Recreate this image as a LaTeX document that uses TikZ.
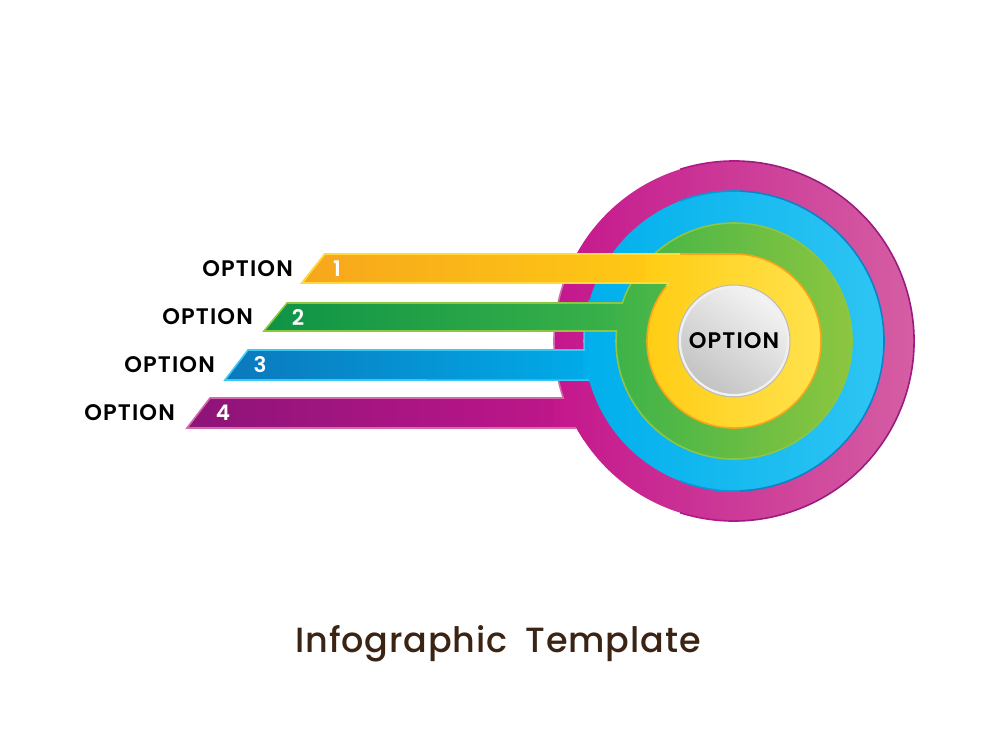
\documentclass[tikz,border=0pt]{standalone}
\usepackage{fontspec}
\setmainfont{Poppins}
\newfontfamily\titlefont{Poppins Medium}[LetterSpace=2.5]
\newfontfamily\labelfont{Poppins SemiBold}[LetterSpace=5]
\definecolor{magL}{HTML}{8C1478}
\definecolor{magM}{HTML}{C4168C}
\definecolor{magR}{HTML}{D55EA3}
\definecolor{magBar}{HTML}{D46AAE}
\definecolor{magRing}{HTML}{9B1C80}
\definecolor{bluL}{HTML}{0B78BC}
\definecolor{bluM}{HTML}{00AFEC}
\definecolor{bluR}{HTML}{2EC5F3}
\definecolor{bluBar}{HTML}{3AC8F5}
\definecolor{bluRing}{HTML}{0C83C6}
\definecolor{grnL}{HTML}{0E9346}
\definecolor{grnM}{HTML}{3DB349}
\definecolor{grnR}{HTML}{8DC63F}
\definecolor{grnO}{HTML}{8DC63F}
\definecolor{ylwL}{HTML}{F7A61C}
\definecolor{ylwM}{HTML}{FFCD14}
\definecolor{ylwR}{HTML}{FFE24D}
\definecolor{ylwBar}{HTML}{FFDA3A}
\definecolor{ylwRing}{HTML}{F9A51A}
\definecolor{titlebrown}{HTML}{3C2415}
\tikzset{
  lbl/.style={anchor=east,inner sep=0pt,font=\labelfont\fontsize{22.5}{22.5}\selectfont,text=black},
  num/.style={inner sep=0pt,font=\labelfont\fontsize{21.5}{21.5}\selectfont,text=white},
  edge/.style={line width=1.6pt,line join=miter},
}
\def\magpath{(187,-428) -- (210,-398) -- (563.3,-398) arc[start angle=198.46,end angle=-151.1,radius=180] -- cycle}
\def\blupath{(225,-380) -- (248,-350) -- (584.3,-350) arc[start angle=183.44,end angle=-164.9,radius=150] -- cycle}
\def\grnpath{(264,-331) -- (287,-303) -- (622.3,-303) arc[start angle=161.2,end angle=-184.86,radius=118] -- cycle}
\def\ylwpath{(302,-283) -- (325,-254) -- (734,-254) arc[start angle=90,end angle=-221.8,radius=87] -- cycle}
\begin{document}
\begin{tikzpicture}[x=1pt,y=1pt]
\useasboundingbox[fill=white] (0,0) rectangle (1000,-750);
\coordinate (c) at (734,-341);
% magenta
\begin{scope}
\clip \magpath;
\shade[left color=magL,right color=magM] (185,-440) rectangle (600,-390);
\shade[left color=magM,right color=magR] (553,-160) rectangle (915,-522);
\end{scope}
\begin{scope}\clip (0,0) rectangle (576,-750);\draw[edge,magBar] \magpath;\end{scope}
\begin{scope}\clip (680,0) rectangle (740,-750);\draw[edge,magRing!45!magM] \magpath;\end{scope}
\begin{scope}\clip (740,0) rectangle (1000,-750);\draw[edge,magRing] \magpath;\end{scope}
% blue
\begin{scope}
\clip \blupath;
\shade[left color=bluL,right color=bluM] (223,-390) rectangle (620,-340);
\shade[left color=bluM,right color=bluR] (583,-190) rectangle (885,-492);
\end{scope}
\begin{scope}\clip (0,0) rectangle (589,-750);\draw[edge,bluBar] \blupath;\end{scope}
\begin{scope}\clip (680,0) rectangle (740,-750);\draw[edge,bluRing!50!bluM] \blupath;\end{scope}
\begin{scope}\clip (740,0) rectangle (1000,-750);\draw[edge,bluRing] \blupath;\end{scope}
% green
\begin{scope}
\clip \grnpath;
\shade[left color=grnL,right color=grnM] (262,-340) rectangle (640,-295);
\shade[left color=grnM,right color=grnR] (616,-222) rectangle (853,-460);
\end{scope}
\draw[edge,grnO] \grnpath;
% yellow
\begin{scope}
\clip \ylwpath;
\shade[left color=ylwL,right color=ylwM] (300,-290) rectangle (690,-250);
\shade[left color=ylwM,right color=ylwR] (646,-253) rectangle (822,-429);
\end{scope}
\draw[edge,ylwRing] \ylwpath;
\begin{scope}\clip (0,-245) rectangle (680,-285);\draw[edge,ylwBar] \ylwpath;\end{scope}
% grey centre
\shade[bottom color=black!24,top color=black!4,shading angle=-35] (c) circle[radius=56];
\draw[line width=2.5pt,black!6] (c) circle[radius=54.2];
\draw[line width=1pt,black!27] (c) circle[radius=56];
\node[inner sep=0pt,font=\labelfont\fontsize{22.5}{22.5}\selectfont] (center) at (c) {OPTION};
% labels
\node[lbl] (l1) at (293,-269) {OPTION};
\node[lbl] (l2) at (253,-317) {OPTION};
\node[lbl] (l3) at (215,-365) {OPTION};
\node[lbl] (l4) at (175,-413) {OPTION};
\node[num] (n1) at (337,-269) {1};
\node[num] (n2) at (298,-317) {2};
\node[num] (n3) at (260,-365) {3};
\node[num] (n4) at (223,-413) {4};
% title
\node[anchor=base,inner sep=0pt,text=titlebrown,font=\titlefont\fontsize{35}{35}\selectfont] (title) at (498,-652) {Infographic\hspace{18pt}Template};
\end{tikzpicture}
\end{document}
